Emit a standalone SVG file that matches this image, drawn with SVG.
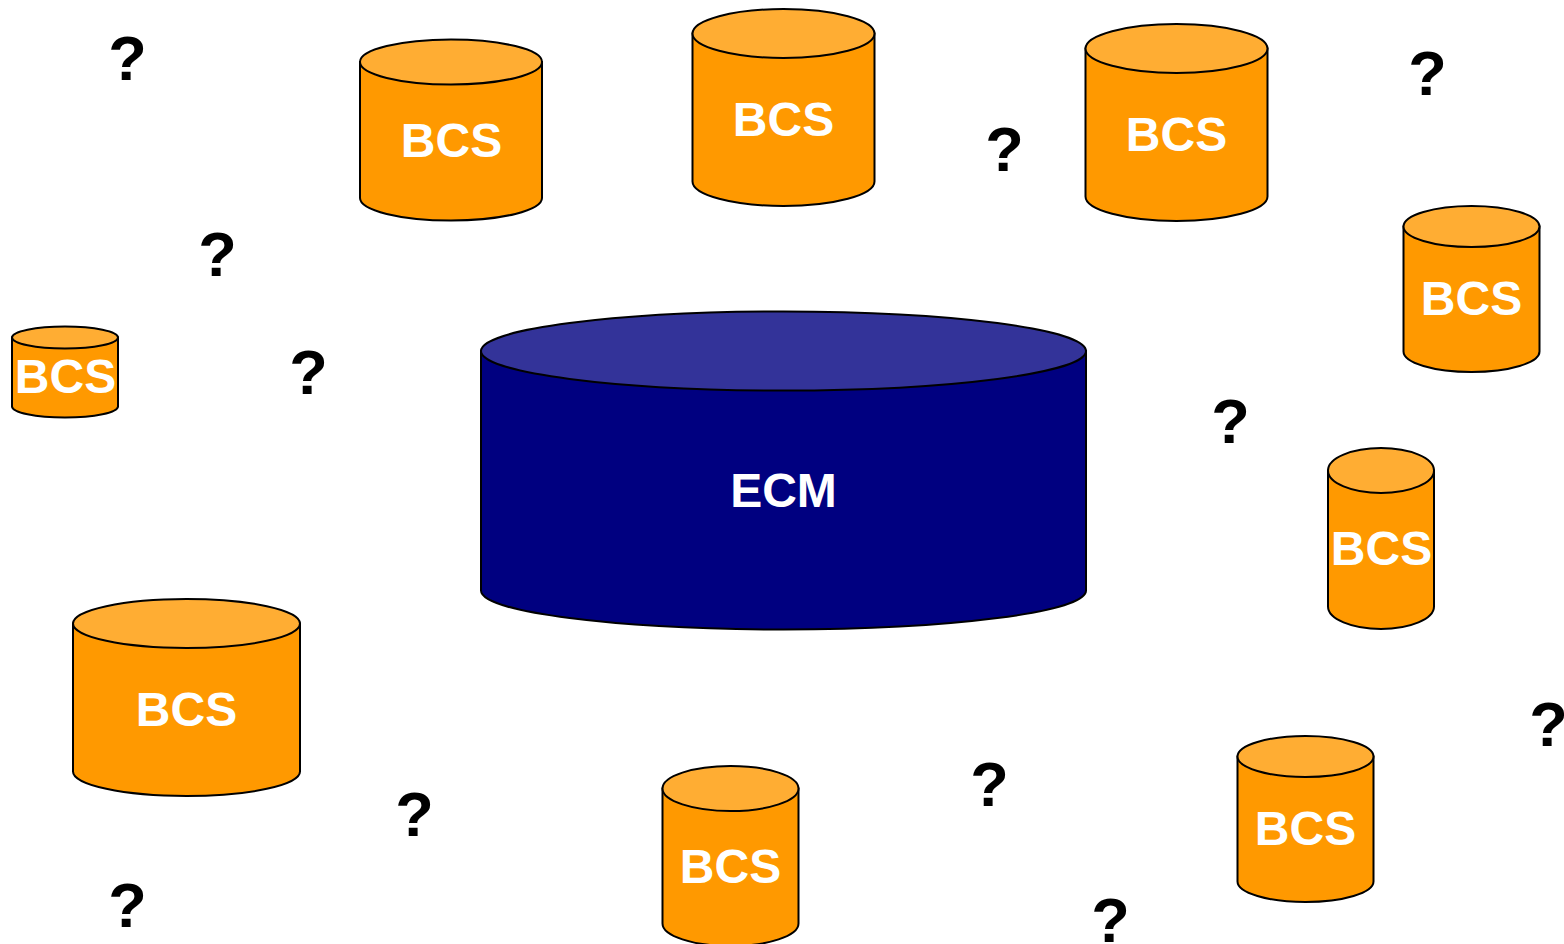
<svg xmlns="http://www.w3.org/2000/svg" width="1564" height="944" viewBox="0 0 1564 944">
<style>
.o{fill:#ff9900}.ot{fill:#ffad33}.b{fill:#000080}.bt{fill:#333399}
path,ellipse{stroke:#000;stroke-width:2}
text{font-family:"Liberation Sans",Arial,sans-serif;font-weight:700;text-anchor:middle}
.l{font-size:48px;fill:#fff}.q{font-size:63px;fill:#000}
</style>
<rect width="1564" height="944" fill="#fff"/>
<g id="ecm"><path class="b" d="M481 351V590.500A302.500 39 0 0 0 1086 590.500V351Z"/><ellipse class="bt" cx="783.500" cy="351" rx="302.500" ry="39.500"/><text class="l" x="783.500" y="507">ECM</text></g>
<g id="bcs1"><path class="o" d="M360 62V198A91 22.500 0 0 0 542 198V62Z"/><ellipse class="ot" cx="451" cy="62" rx="91" ry="22.500"/><text class="l" x="451.500" y="157">BCS</text></g>
<g id="bcs2"><path class="o" d="M692.500 33.500V181.500A91 24.500 0 0 0 874.500 181.500V33.500Z"/><ellipse class="ot" cx="783.500" cy="33.500" rx="91" ry="24.500"/><text class="l" x="783.500" y="136">BCS</text></g>
<g id="bcs3"><path class="o" d="M1085.500 48.500V196.500A91 24.500 0 0 0 1267.500 196.500V48.500Z"/><ellipse class="ot" cx="1176.500" cy="48.500" rx="91" ry="24.500"/><text class="l" x="1176.500" y="151">BCS</text></g>
<g id="bcs4"><path class="o" d="M1403.500 226.500V351.500A68 20.500 0 0 0 1539.500 351.500V226.500Z"/><ellipse class="ot" cx="1471.500" cy="226.500" rx="68" ry="20.500"/><text class="l" x="1471.500" y="315">BCS</text></g>
<g id="bcs5"><path class="o" d="M12 337.500V406.500A53 11 0 0 0 118 406.500V337.500Z"/><ellipse class="ot" cx="65" cy="337.500" rx="53" ry="11"/><text class="l" x="65.500" y="393">BCS</text></g>
<g id="bcs6"><path class="o" d="M1328 470.500V606.500A53 22.500 0 0 0 1434 606.500V470.500Z"/><ellipse class="ot" cx="1381" cy="470.500" rx="53" ry="22.500"/><text class="l" x="1381.500" y="565">BCS</text></g>
<g id="bcs7"><path class="o" d="M73 623.500V771.500A113.500 24.500 0 0 0 300 771.500V623.500Z"/><ellipse class="ot" cx="186.500" cy="623.500" rx="113.500" ry="24.500"/><text class="l" x="186.500" y="726">BCS</text></g>
<g id="bcs8"><path class="o" d="M662.500 788.500V923.500A68 22.500 0 0 0 798.500 923.500V788.500Z"/><ellipse class="ot" cx="730.500" cy="788.500" rx="68" ry="22.500"/><text class="l" x="730.500" y="883">BCS</text></g>
<g id="bcs9"><path class="o" d="M1237.500 756.500V881.500A68 20.500 0 0 0 1373.500 881.500V756.500Z"/><ellipse class="ot" cx="1305.500" cy="756.500" rx="68" ry="20.500"/><text class="l" x="1305.500" y="845">BCS</text></g>
<g id="questions">
<text class="q" x="127.500" y="80">?</text><text class="q" x="217.500" y="276">?</text><text class="q" x="308.500" y="394">?</text><text class="q" x="1004.500" y="171">?</text><text class="q" x="1427.500" y="95">?</text><text class="q" x="1230.500" y="443">?</text><text class="q" x="1548.500" y="746">?</text><text class="q" x="989.500" y="806">?</text><text class="q" x="414.500" y="836">?</text><text class="q" x="127.500" y="927">?</text><text class="q" x="1110.500" y="942">?</text>
</g>
<g id="connectors"/>
</svg>
